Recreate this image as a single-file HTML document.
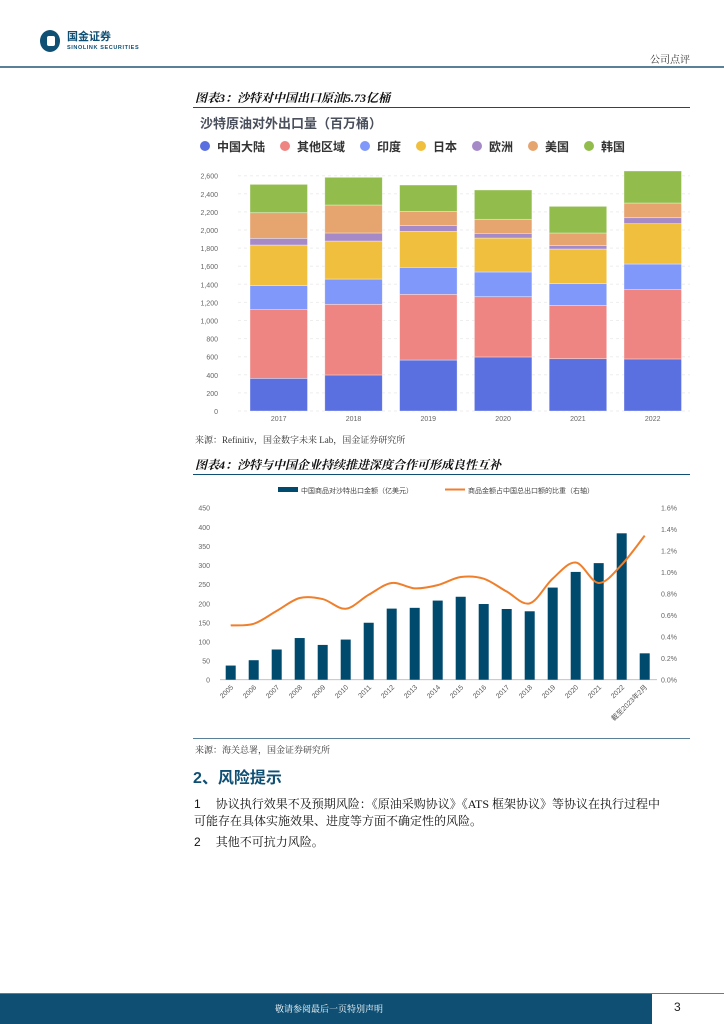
<!DOCTYPE html>
<html><head><meta charset="utf-8">
<style>
body{margin:0;width:724px;height:1024px;position:relative;background:#fff;font-family:"Liberation Sans","Noto Sans CJK SC",sans-serif;overflow:hidden}
.a{position:absolute;white-space:nowrap}
.serif{font-family:"Liberation Serif","Noto Serif CJK SC",serif}
</style></head><body>
<div class="a" style="left:40px;top:30px;width:100px;height:22px">
<div style="position:absolute;left:0;top:0;width:20px;height:22px;border-radius:50%;background:#0e4f73"></div>
<div style="position:absolute;left:7px;top:6px;width:8px;height:10px;background:#fff;border-radius:2px"></div>
<div class="a" style="left:27px;top:1px;font-size:11px;line-height:13px;font-weight:bold;color:#0e4f73">国金证券</div>
<div class="a" style="left:27px;top:15px;font-size:5.5px;line-height:6px;font-weight:bold;letter-spacing:0.6px;color:#0e4f73">SINOLINK SECURITIES</div>
</div>
<div class="a serif" style="left:650px;top:51px;font-size:10px;color:#333">公司点评</div>
<div class="a" style="left:0;top:66px;width:724px;height:2px;background:#5a7f98"></div>

<div class="a serif" style="left:195px;top:89px;font-size:12px;font-weight:bold;font-style:italic;color:#111">图表3：沙特对中国出口原油5.73亿桶</div>
<div class="a" style="left:193px;top:107px;width:497px;height:1px;background:#0e4f73"></div>

<svg class="a" style="left:190px;top:108px" width="500" height="322" id="c1"></svg>
<div class="a serif" style="left:195px;top:433px;font-size:9px;color:#333">来源：Refinitiv，国金数字未来 Lab，国金证券研究所</div>

<div class="a serif" style="left:195px;top:456px;font-size:12px;font-weight:bold;font-style:italic;color:#111">图表4：沙特与中国企业持续推进深度合作可形成良性互补</div>
<div class="a" style="left:193px;top:474px;width:497px;height:1px;background:#0e4f73"></div>
<svg class="a" style="left:190px;top:475px" width="500" height="265" id="c2"></svg>
<div class="a" style="left:193px;top:738px;width:497px;height:1px;background:#5a7f98"></div>
<div class="a serif" style="left:195px;top:743px;font-size:9px;color:#333">来源：海关总署，国金证券研究所</div>

<div class="a" style="left:193px;top:764px;font-size:16px;font-weight:bold;color:#0e4f73">2、风险提示</div>
<div class="a serif" style="left:194px;top:796px;font-size:12px;color:#111;line-height:17px;white-space:normal;width:500px"><span style="font-family:'Liberation Sans'">1</span>&nbsp;&nbsp;&nbsp;&nbsp;&nbsp;协议执行效果不及预期风险：《原油采购协议》《ATS 框架协议》等协议在执行过程中<br>可能存在具体实施效果、进度等方面不确定性的风险。</div>
<div class="a serif" style="left:194px;top:833px;font-size:12px;color:#111"><span style="font-family:'Liberation Sans'">2</span>&nbsp;&nbsp;&nbsp;&nbsp;&nbsp;其他不可抗力风险。</div>

<div class="a" style="left:0;top:993px;width:724px;height:1px;background:#5a7f98"></div>
<div class="a" style="left:0;top:994px;width:652px;height:30px;background:#0e4f73"></div>
<div class="a serif" style="left:275px;top:1002px;font-size:9px;color:#fff">敬请参阅最后一页特别声明</div>
<div class="a" style="left:674px;top:1000px;font-size:12px;color:#222">3</div>

<script>
// Chart 1 data
const years1 = ['2017','2018','2019','2020','2021','2022'];
const seriesNames = ['中国大陆','其他区域','印度','日本','欧洲','美国','韩国'];
const sChina = [361,398,563,597,578,575];
const sOther = [759,781,726,666,589,766];
const sIndia = [265,279,298,273,240,283];
const sJapan = [449,420,398,375,383,446];
const sEurope = [74,89,63,52,37,66];
const sUS = [283,309,158,155,140,162];
const sKorea = [313,306,291,324,294,354];
const ticks1 = [0,200,400,600,800,1000,1200,1400,1600,1800,2000,2200,2400,2600];

const NS='http://www.w3.org/2000/svg';
function mk(p,t,at){const e=document.createElementNS(NS,t);for(const k in at)e.setAttribute(k,at[k]);p.appendChild(e);return e;}

(function(){
 const svg=document.getElementById('c1');
 const colors=['#5a6fe0','#ef8582','#7f98fa','#f0bf3d','#a68ac8','#e6a56f','#92bd4d'];
 const series=[sChina,sOther,sIndia,sJapan,sEurope,sUS,sKorea];
 const y0=303,ymax=2600,yTop=67.7; const y=v=>y0-(v/ymax)*(y0-yTop);
 const x=i=>60+i*74.8;
 const t=mk(svg,'text',{x:10,y:20,'font-size':13,'font-weight':'bold',fill:'#4a4f5c'});t.textContent='沙特原油对外出口量（百万桶）';
 
 let lx=10;
 seriesNames.forEach((n,i)=>{
  const g=mk(svg,'g',{});
  
  
  mk(g,'circle',{cx:lx+5,cy:38,r:5,fill:colors[i]});
  const tx=mk(g,'text',{x:lx+17,y:43,'font-size':12,'font-weight':'bold',fill:'#333'});tx.textContent=n;
  lx+=17+n.length*12+15;
 });
 ticks1.forEach(v=>{
  mk(svg,'line',{x1:48,x2:500,y1:y(v),y2:y(v),stroke:'#eee','stroke-dasharray':'3,3'});
  const tt=mk(svg,'text',{x:28,y:y(v)+3,'font-size':7,fill:'#666','text-anchor':'end'});tt.textContent=v.toLocaleString('en-US');
 });
 years1.forEach((yr,i)=>{
  let c=0;
  series.forEach((s,k)=>{
   const r=mk(svg,'rect',{x:x(i),y:y(c+s[i]),width:57.5,height:y(c)-y(c+s[i]),fill:colors[k],stroke:'rgba(255,255,255,0.5)','stroke-width':0.7});
   
   
   c+=s[i];
  });
  const tl=mk(svg,'text',{x:x(i)+28.7,y:313,'font-size':7,fill:'#666','text-anchor':'middle'});tl.textContent=yr;
 });
})();

// Chart 2 data
const cats2 = ['2005','2006','2007','2008','2009','2010','2011','2012','2013','2014','2015','2016','2017','2018','2019','2020','2021','2022','截至2023年2月'];
const exportsVal = [37,51,79,109,91,105,149,186,188,207,217,198,185,179,241,282,305,383,69];
const shareVal = [0.505,0.52,0.64,0.76,0.75,0.66,0.79,0.90,0.85,0.88,0.955,0.94,0.82,0.71,0.94,1.09,0.90,1.07,1.34];
const ticksL = [0,50,100,150,200,250,300,350,400,450];
const ticksR = [0,0.2,0.4,0.6,0.8,1.0,1.2,1.4,1.6];

(function(){
 const svg=document.getElementById('c2');
 const y0=204.7,yT=32.7; const yl=v=>y0-v/450*(y0-yT); const yr=v=>y0-v/1.6*(y0-yT);
 const xc=i=>40.7+i*23.0;
 const g1=mk(svg,'g',{});
 mk(g1,'rect',{x:88,y:12,width:20,height:5,fill:'#004a6e'});
 const a=mk(g1,'text',{x:111,y:18,'font-size':7,fill:'#444'});a.textContent='中国商品对沙特出口金额（亿美元）';
 const g2=mk(svg,'g',{});
 mk(g2,'line',{x1:255,x2:275,y1:14.5,y2:14.5,stroke:'#f07f2c','stroke-width':2});
 const b=mk(g2,'text',{x:278,y:18,'font-size':7,fill:'#444'});b.textContent='商品金额占中国总出口额的比重（右轴）';
 ticksL.forEach(v=>{const t=mk(svg,'text',{x:20,y:yl(v)+3,'font-size':7,fill:'#666','text-anchor':'end'});t.textContent=v;});
 ticksR.forEach(v=>{const t=mk(svg,'text',{x:471,y:yr(v)+3,'font-size':7,fill:'#666'});t.textContent=v.toFixed(1)+'%';});
 mk(svg,'line',{x1:30,x2:467,y1:y0,y2:y0,stroke:'#bbb','stroke-width':0.8});
 exportsVal.forEach((v,i)=>{
  const r=mk(svg,'rect',{x:xc(i)-5,y:yl(v),width:10,height:y0-yl(v),fill:'#004a6e'});
  
  
  const t=mk(svg,'text',{x:0,y:0,'font-size':7,fill:'#555','text-anchor':'end',transform:`translate(${xc(i)+3},${y0+8}) rotate(-45)`});t.textContent=cats2[i];
 });
 const pts=shareVal.map((v,i)=>[xc(i),yr(v)]);
 let d=`M${pts[0][0]},${pts[0][1]}`;
 for(let i=0;i<pts.length-1;i++){
  const p0=pts[Math.max(0,i-1)],p1=pts[i],p2=pts[i+1],p3=pts[Math.min(pts.length-1,i+2)];
  const c1=[p1[0]+(p2[0]-p0[0])/6,p1[1]+(p2[1]-p0[1])/6],c2=[p2[0]-(p3[0]-p1[0])/6,p2[1]-(p3[1]-p1[1])/6];
  d+=` C${c1[0]},${c1[1]} ${c2[0]},${c2[1]} ${p2[0]},${p2[1]}`;
 }
 const l=mk(svg,'path',{d:d,fill:'none',stroke:'#f07f2c','stroke-width':2});
 
 
})();
</script>
</body></html>
